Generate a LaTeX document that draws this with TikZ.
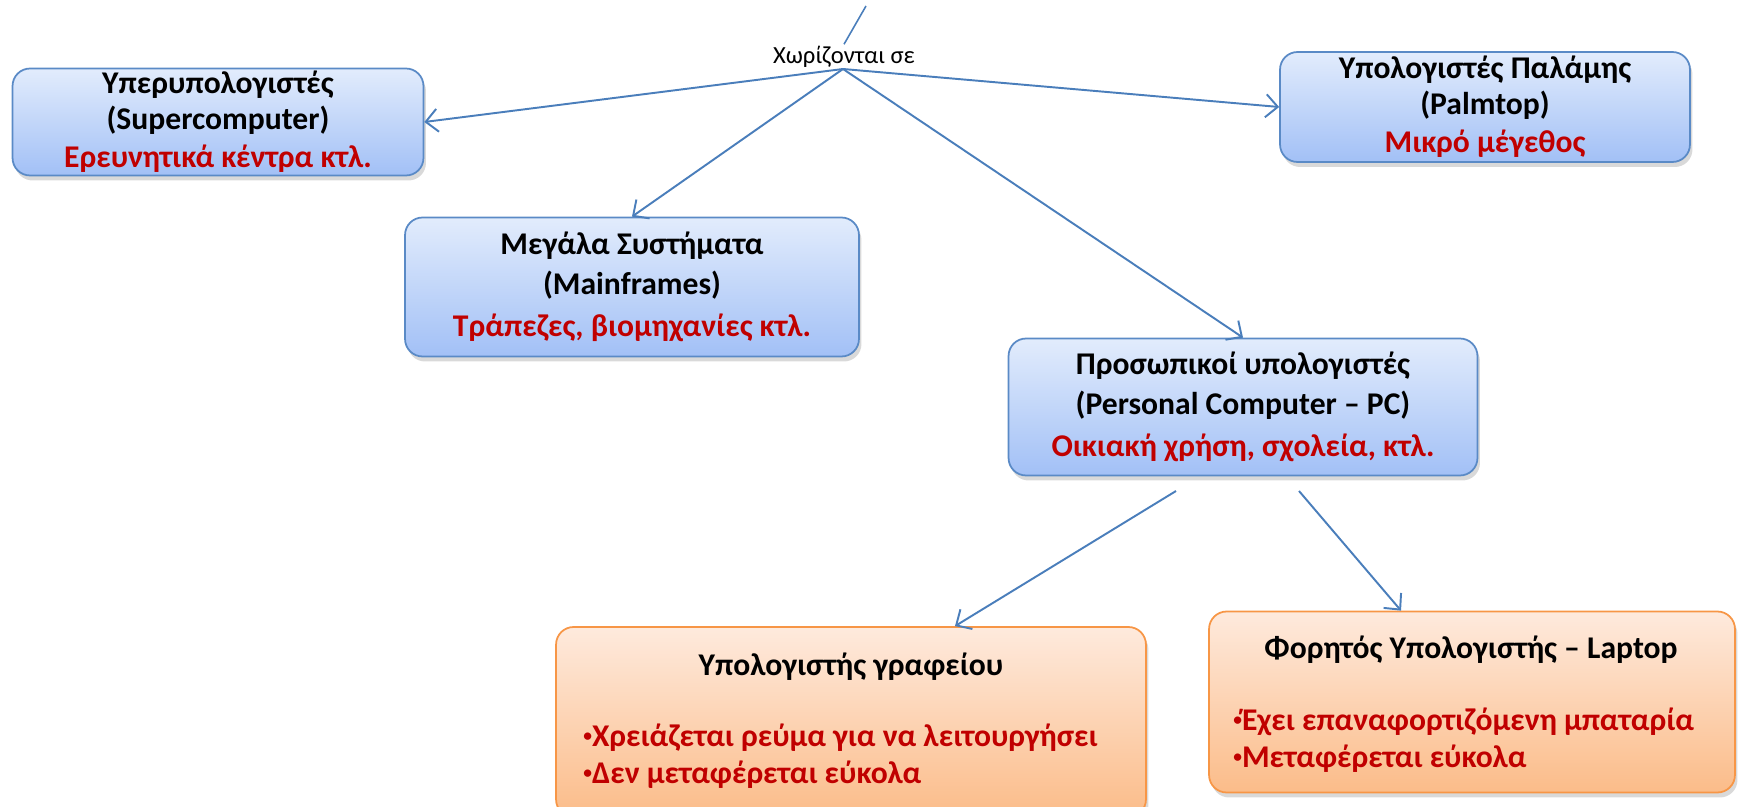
\documentclass[tikz,border=0pt]{standalone}
\usepackage{fontspec}
\setmainfont{Carlito}
\usetikzlibrary{arrows.meta,shadows}
\definecolor{blueline}{HTML}{5A8AC6}
\definecolor{bluetop}{HTML}{E2ECFC}
\definecolor{bluebot}{HTML}{A2C0F6}
\definecolor{orangeline}{HTML}{F79646}
\definecolor{orangetop}{HTML}{FEEADD}
\definecolor{orangebot}{HTML}{FBBC89}
\definecolor{redtext}{HTML}{C00000}
\definecolor{arrowblue}{HTML}{4A7EBB}
\newcommand{\rt}[1]{\textcolor{redtext}{#1}}
\newcommand{\bul}{\raisebox{0.3ex}{\scalebox{0.55}{•}}}
\begin{document}
\begin{tikzpicture}[x=0.02cm, y=-0.02cm, >={Straight Barb[length=2.4mm,width=4.6mm]},
    catbox/.style={rounded corners=3.5mm, line width=1pt, inner sep=0pt, align=center,
        font=\bfseries\fontsize{18}{20}\selectfont,
        drop shadow={shadow xshift=0.5mm, shadow yshift=-1mm, opacity=0.3}},
    bluebox/.style={catbox, draw=blueline, top color=bluetop, bottom color=bluebot},
    orangebox/.style={catbox, draw=orangeline, top color=orangetop, bottom color=orangebot},
    boxtext/.style={inner sep=0pt, align=left, font=\bfseries\fontsize{18}{21}\selectfont},
    arr/.style={->, draw=arrowblue, line width=1.1pt}]
    \useasboundingbox (0,0) rectangle (1745,807);

    % the parent connector
    \coordinate (top) at (866,6);
    \node[inner sep=1pt, font=\fontsize{14}{16}\selectfont] (split) at (844,57) {Χωρίζονται σε};
    \draw[draw=arrowblue, line width=0.9pt] (top) -- (split.north);

    % first level
    \node[bluebox, minimum width=8.22cm, minimum height=2.14cm] (super) at (218,122)
        {Υπερυπολογιστές\\(Supercomputer)\\[2pt]\rt{Ερευνητικά κέντρα κτλ.}};
    \node[bluebox, minimum width=8.2cm, minimum height=2.2cm] (palm) at (1485,107)
        {Υπολογιστές Παλάμης\\(Palmtop)\\[2pt]\rt{Μικρό μέγεθος}};
    \node[bluebox, minimum width=9.08cm, minimum height=2.78cm] (main) at (632,287)
        {Μεγάλα Συστήματα\\[3pt](Mainframes)\\[4pt]\rt{Τράπεζες, βιομηχανίες κτλ.}};
    \node[bluebox, minimum width=9.38cm, minimum height=2.74cm] (pc) at (1243,407)
        {Προσωπικοί υπολογιστές\\[3pt](Personal Computer -- PC)\\[4pt]\rt{Οικιακή χρήση, σχολεία, κτλ.}};

    \coordinate (hub) at (843,69);
    \draw[arr] (hub) -- (super.east);
    \draw[arr] (hub) -- (palm.west);
    \draw[arr] (hub) -- (main.north);
    \draw[arr] (hub) -- (pc.north);

    % second level
    \node[orangebox, minimum width=11.8cm, minimum height=3.8cm] (office) at (851,722) {};
    \node[boxtext] (officeT) at (851,667) {Υπολογιστής γραφείου};
    \node[boxtext, anchor=west, text=redtext] (officeB) at (583,756)
        {\bul Χρειάζεται ρεύμα για να λειτουργήσει\\\bul Δεν μεταφέρεται εύκολα};

    \node[orangebox, minimum width=10.52cm, minimum height=3.62cm] (laptop) at (1472,702) {};
    \node[boxtext] (laptopT) at (1471,650) {Φορητός Υπολογιστής -- Laptop};
    \node[boxtext, anchor=west, text=redtext] (laptopB) at (1233,740)
        {\bul Έχει επαναφορτιζόμενη μπαταρία\\\bul Μεταφέρεται εύκολα};

    \coordinate (pcL) at (1176,491);
    \coordinate (pcR) at (1299,491);
    \draw[arr] (pcL) -- ([xshift=2.08cm]office.north);
    \draw[arr] (pcR) -- ([xshift=-1.42cm]laptop.north);
\end{tikzpicture}
\end{document}
